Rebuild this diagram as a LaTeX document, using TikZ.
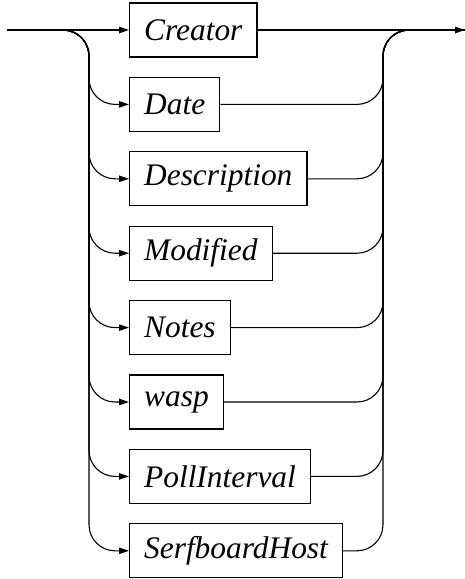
\documentclass[tikz,border=0pt]{standalone}
\usepackage{fontspec}
\setmainfont{Liberation Serif}
\usepackage{tikz}
\usetikzlibrary{arrows.meta}

\tikzset{
    rail/.style={line width=0.55pt, rounded corners=13pt},
    railarrow/.style={-{Triangle[length=5pt, width=3.2pt]}},
    termbox/.style={rectangle, draw, line width=0.55pt, anchor=west, minimum height=27pt, inner xsep=7.3pt, font=\fontsize{15.7}{18}\selectfont\rmfamily\itshape}
}

\begin{document}
\begin{tikzpicture}[x=0.5pt, y=0.5pt]
    \useasboundingbox (0,0) rectangle (465,-579);

    % Entry, exit and the two buses
    \coordinate (IN) at (7,-30);
    \coordinate (OUT) at (465,-30);
    \coordinate (LBUS) at (89,-30);
    \coordinate (RBUS) at (383,-30);

    % Choices
    \foreach \lbl [count=\i from 0] in {Creator, Date, Description, Modified, Notes, wasp, PollInterval, SerfboardHost} {
        \node[termbox] (T\i) at (129, -30-\i*74.4) {\lbl};
    }

    % Straight path
    \draw[rail, railarrow] (IN) -- (T0);
    \draw[rail, railarrow] (T0) -- (OUT);

    % Alternatives
    \foreach \i in {1,...,7} {
        \draw[rail, railarrow] (IN) -| (LBUS |- T\i.west) -- (T\i.west);
        \draw[rail] (T\i.east) -| (RBUS) -- (OUT);
    }
\end{tikzpicture}
\end{document}
